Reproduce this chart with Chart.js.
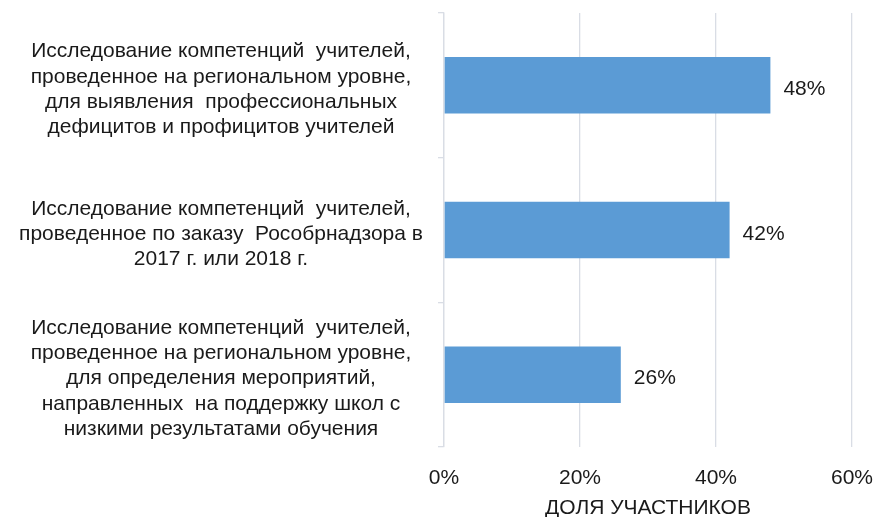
<!DOCTYPE html>
<html>
<head>
<meta charset="utf-8">
<script src="https://cdn.jsdelivr.net/npm/chart.js@4"></script>
<style>
html,body{margin:0;padding:0;background:#fff;}
#wrap{width:873px;height:517px;}
</style>
</head>
<body>
<div id="wrap"><canvas id="c" width="873" height="517"></canvas></div>
<script>
const categories = [
  ["Исследование компетенций  учителей,", "проведенное на региональном уровне,", "для выявления  профессиональных", "дефицитов и профицитов учителей"],
  ["Исследование компетенций  учителей,", "проведенное по заказу  Рособрнадзора в", "2017 г. или 2018 г."],
  ["Исследование компетенций  учителей,", "проведенное на региональном уровне,", "для определения мероприятий,", "направленных  на поддержку школ с", "низкими результатами обучения"]
];
const values = [48, 42, 26];
const xTicks = [0, 20, 40, 60];
const axisTitle = "ДОЛЯ УЧАСТНИКОВ";

const FONT = "'Liberation Sans', Arial, sans-serif";
const FS = 21;
const TEXT = "#1a1a1a";
const GRID = "#D9DDE5";

// measure widest label line so the centered label block sits where the reference has it
const mctx = document.createElement('canvas').getContext('2d');
mctx.font = FS + "px " + FONT;
let widest = 0;
categories.forEach(lines => lines.forEach(l => { widest = Math.max(widest, mctx.measureText(l).width); }));
const yTickPad = Math.max(2, 444 - 6 - 221 - widest / 2);

const valueLabels = {
  id: 'valueLabels',
  afterDatasetsDraw(chart) {
    const ctx = chart.ctx;
    const meta = chart.getDatasetMeta(0);
    ctx.save();
    ctx.font = FS + "px " + FONT;
    ctx.fillStyle = TEXT;
    ctx.textAlign = 'left';
    ctx.textBaseline = 'middle';
    meta.data.forEach((bar, i) => {
      ctx.fillText(values[i] + '%', bar.x + 13, bar.y + 4);
    });
    ctx.restore();
  }
};

new Chart(document.getElementById('c'), {
  type: 'bar',
  data: {
    labels: categories,
    datasets: [{
      data: values,
      backgroundColor: '#5B9BD5',
      borderWidth: 0,
      categoryPercentage: 1,
      barPercentage: 0.39
    }]
  },
  options: {
    indexAxis: 'y',
    responsive: false,
    animation: false,
    devicePixelRatio: 1,
    layout: { padding: { top: 13, right: 21, left: 0, bottom: 0 } },
    plugins: { legend: { display: false }, tooltip: { enabled: false } },
    scales: {
      x: {
        min: 0, max: 60,
        afterBuildTicks(scale) { scale.ticks = xTicks.map(v => ({ value: v })); },
        afterFit(scale) { scale.height = 517 - 447; scale.paddingLeft = 0; scale.paddingRight = 0; },
        ticks: {
          color: TEXT,
          font: { family: FONT, size: FS, lineHeight: 1.2 },
          padding: 19,
          maxRotation: 0,
          callback: v => v + '%'
        },
        grid: { color: GRID, lineWidth: 1.3, drawTicks: false },
        border: { display: false },
        title: {
          display: true,
          text: axisTitle,
          color: TEXT,
          font: { family: FONT, size: FS, lineHeight: 0.85 },
          padding: { top: 2, bottom: 0 }
        }
      },
      y: {
        afterFit(scale) { scale.width = 444; scale.paddingTop = 0; scale.paddingBottom = 0; },
        ticks: {
          color: TEXT,
          font: { family: FONT, size: FS, lineHeight: 1.2 },
          crossAlign: 'center',
          autoSkip: false,
          labelOffset: 4,
          padding: yTickPad
        },
        grid: { color: GRID, lineWidth: 1.3, drawOnChartArea: false, drawTicks: true, tickLength: 6, offset: true },
        border: { display: true, color: GRID, width: 1.3 }
      }
    }
  },
  plugins: [valueLabels]
});
</script>
</body>
</html>
